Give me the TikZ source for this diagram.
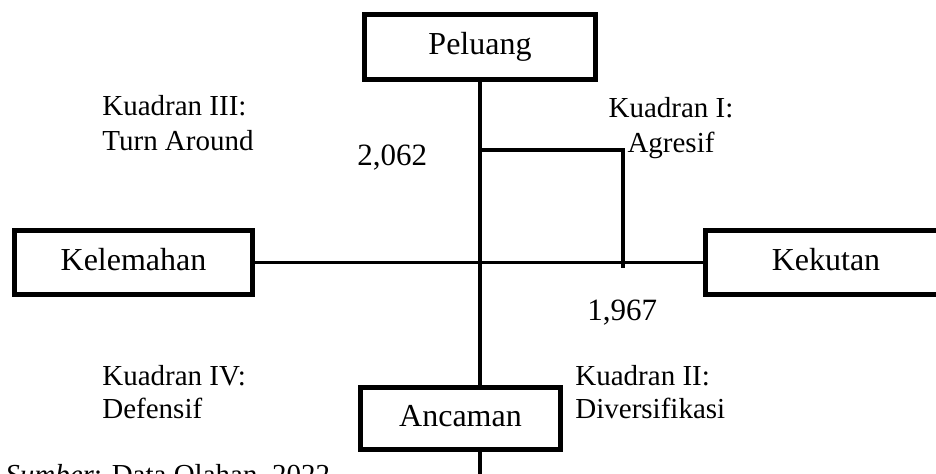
\documentclass[tikz,border=0pt]{standalone}
\usepackage{fontspec}
\setmainfont{Liberation Serif}
\begin{document}
\begin{tikzpicture}[x=0.5pt,y=-0.5pt,
  box/.style={draw,line width=2.5pt,inner sep=0pt,font=\fontsize{16}{19}\selectfont,text height=11pt,text depth=3.5pt},
  conn/.style={line width=1.7pt},
  lab/.style={inner sep=0pt,font=\fontsize{14.5}{17}\selectfont},
  num/.style={inner sep=0pt,font=\fontsize{15.5}{18}\selectfont}]
\useasboundingbox (0,0) rectangle (936,473);
\clip (0,0) rectangle (936,473);
% boxes
\node[box,minimum width=115.5pt,minimum height=32.5pt] (P) at (480,47) {Peluang};
\node[box,minimum width=119pt,minimum height=32pt] (L) at (133.5,262.5) {Kelemahan};
\node[box,minimum width=120.5pt,minimum height=32pt] (K) at (826,262.5) {Kekutan};
\node[box,minimum width=100pt,minimum height=31pt] (A) at (460.5,418.5) {Ancaman};
% axes
\coordinate (bot) at (480,480);
\draw[conn] (P.south) -- (P.south |- A.north);
\draw[conn] (A.south -| P.south) -- (bot);
\draw[conn] (L.east) -- (K.west);
% point frame
\coordinate (f1) at (480,150);
\coordinate (f2) at (623,150);
\coordinate (f3) at (623,268);
\draw[conn] (f1) -- (f2) -- (f3);
% labels
\node[lab,anchor=base west] (q3a) at (102,115) {Kuadran III:};
\node[lab,anchor=base west] (q3b) at (102,150) {Turn Around};
\node[lab,anchor=base] (q1a) at (671,117) {Kuadran I:};
\node[lab,anchor=base] (q1b) at (671,152) {Agresif};
\node[lab,anchor=base west] (q4a) at (102,385) {Kuadran IV:};
\node[lab,anchor=base west] (q4b) at (102,418) {Defensif};
\node[lab,anchor=base west] (q2a) at (575,385) {Kuadran II:};
\node[lab,anchor=base west] (q2b) at (575,418) {Diversifikasi};
\node[num,anchor=base west] (n1) at (357,165) {2,062};
\node[num,anchor=base west] (n2) at (587,320) {1,967};
\node[lab,anchor=base west] (src) at (5,484) {\textit{Sumber}: Data Olahan, 2022};
\end{tikzpicture}
\end{document}
